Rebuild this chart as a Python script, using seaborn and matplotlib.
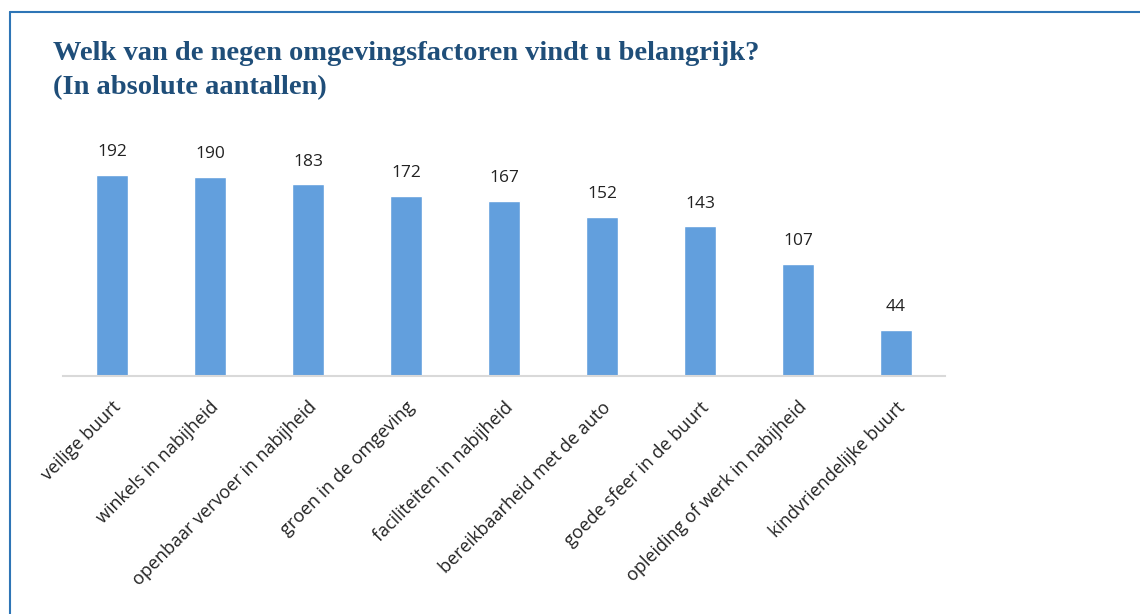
import seaborn as sns
import pandas as pd
import matplotlib.pyplot as plt
from matplotlib.lines import Line2D

# data
categories = ['veilige buurt', 'winkels in nabijheid', 'openbaar vervoer in nabijheid',
              'groen in de omgeving', 'faciliteiten in nabijheid', 'bereikbaarheid met de auto',
              'goede sfeer in de buurt', 'opleiding of werk in nabijheid', 'kindvriendelijke buurt']
counts = [192, 190, 183, 172, 167, 152, 143, 107, 44]
title_lines = ['Welk van de negen omgevingsfactoren vindt u belangrijk?',
               '(In absolute aantallen)']

df = pd.DataFrame({'factor': categories, 'aantal': counts})

sns.set_style('white')
plt.rcParams['font.family'] = ['Open Sans', 'DejaVu Sans']

W, H = 1140, 614
fig = plt.figure(figsize=(W / 100, H / 100), dpi=100)
ax = fig.add_axes([63 / W, 1 - 376 / H, (945 - 63) / W, (376 - 140) / H])

sns.barplot(data=df, x='factor', y='aantal', color='#629fdd', width=0.33,
            saturation=1, ax=ax)

ax.set_xlim(-0.5, 8.5)
ax.set_ylim(0, 225.4)
for i, v in enumerate(counts):
    ax.text(i, v + 14, str(v), ha='center', va='bottom', fontsize=12.5, color='#222222')

ax.set_xlabel('')
ax.set_ylabel('')
ax.set_yticks([])
for s in ['top', 'right', 'left']:
    ax.spines[s].set_visible(False)
ax.spines['bottom'].set_color('#d9d9d9')
ax.spines['bottom'].set_linewidth(1.5)
ax.tick_params(axis='x', length=0, pad=16)
plt.setp(ax.get_xticklabels(), rotation=45, ha='right', rotation_mode='anchor',
         fontsize=13, color='#222222')

# title, two lines
for line, ypix in zip(title_lines, [60, 94]):
    fig.text(53 / W, 1 - ypix / H, line, ha='left', va='baseline', fontsize=20.5,
             fontweight='bold', color='#1f4e79', family='Liberation Serif')

# frame (left and top edges)
fig.add_artist(Line2D([10 / W, 10 / W], [0, 1 - 12 / H], transform=fig.transFigure,
                      color='#2e75b6', lw=1.5))
fig.add_artist(Line2D([10 / W, 1], [1 - 12 / H, 1 - 12 / H], transform=fig.transFigure,
                      color='#2e75b6', lw=1.5))

fig.savefig('out.png', dpi=100)
